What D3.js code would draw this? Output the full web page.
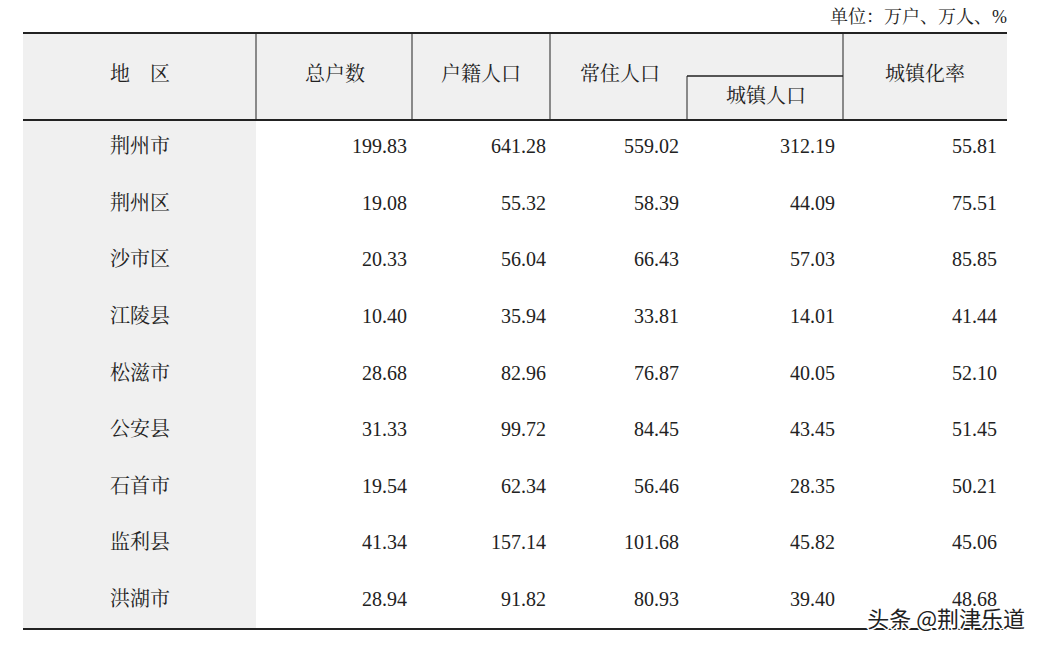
<!DOCTYPE html>
<html><head><meta charset="utf-8">
<script src="https://cdn.jsdelivr.net/npm/d3@7"></script>
<style>body{margin:0;background:#fff}</style>
</head><body><svg id="c" width="1045" height="649"></svg>
<script>
const regions = ["荆州市","荆州区","沙市区","江陵县","松滋市","公安县","石首市","监利县","洪湖市"];
const households = ["199.83","19.08","20.33","10.40","28.68","31.33","19.54","41.34","28.94"];
const registered = ["641.28","55.32","56.04","35.94","82.96","99.72","62.34","157.14","91.82"];
const resident = ["559.02","58.39","66.43","33.81","76.87","84.45","56.46","101.68","80.93"];
const urban = ["312.19","44.09","57.03","14.01","40.05","43.45","28.35","45.82","39.40"];
const urbanRate = ["55.81","75.51","85.85","41.44","52.10","51.45","50.21","45.06","48.68"];

const svg = d3.select('#c');
const font = "'Liberation Serif','Noto Serif CJK SC','Noto Sans CJK SC',serif";
const L = 23, R = 1007, tableTop = 33, headB = 120, bot = 629;
const colX = [L, 256, 412, 550, 687, 843, R];
const ink = '#222';

const y = d3.scaleBand().domain(regions).range([headB, bot]);

// backgrounds
svg.append('rect').attr('x', L).attr('y', tableTop).attr('width', R - L).attr('height', headB - tableTop).attr('fill', '#f0f0f0');
svg.append('rect').attr('x', L).attr('y', headB).attr('width', colX[1] - L).attr('height', bot - headB).attr('fill', '#f0f0f0');

// lines
const line = (x1, y1, x2, y2, w) => svg.append('line').attr('x1', x1).attr('y1', y1).attr('x2', x2).attr('y2', y2)
  .attr('stroke', ink).attr('stroke-width', w);
line(L, tableTop, R, tableTop, 2);
line(L, headB, R, headB, 2);
line(L, bot, R, bot, 2);
[colX[1], colX[2], colX[3], colX[5]].forEach(x => line(x, tableTop, x, headB, 1));
line(colX[4], 76, colX[5], 76, 1.5);
line(colX[4], 76, colX[4], headB, 1);

const txt = (x, yy, s, anchor, size) => svg.append('text').attr('x', x).attr('y', yy)
  .attr('text-anchor', anchor || 'middle').attr('dominant-baseline', 'central')
  .attr('font-family', font).attr('font-size', size || 20).attr('fill', ink).text(s);

txt(R, 17, "单位：万户、万人、%", 'end', 18);
txt(140, 74, "地　区");
txt(335, 74, "总户数");
txt(481, 74, "户籍人口");
txt(620, 74, "常住人口");
txt(766, 96, "城镇人口");
txt(925, 74, "城镇化率");

const cols = [households, registered, resident, urban, urbanRate];
const rightX = [407, 546, 679, 835, 997];
regions.forEach((r, i) => {
  const cy = y(r) + y.bandwidth() / 2 - 2;
  txt(140, cy, r);
  cols.forEach((c, j) => txt(rightX[j], cy, c[i], 'end'));
});

svg.append('text').attr('x', 1025).attr('y', 617).attr('text-anchor', 'end').attr('dominant-baseline', 'central')
  .attr('font-family', "'Noto Sans CJK SC',sans-serif").attr('font-size', 22).attr('fill', '#222')
  .attr('stroke', '#fff').attr('stroke-width', 3).attr('paint-order', 'stroke').text("头条 @荆津乐道");
</script></body></html>
